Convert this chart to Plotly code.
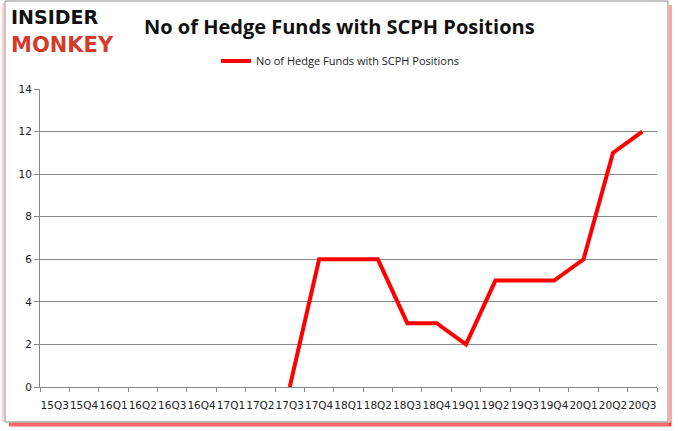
import plotly.graph_objects as go

quarters = ["15Q3", "15Q4", "16Q1", "16Q2", "16Q3", "16Q4", "17Q1", "17Q2", "17Q3", "17Q4",
            "18Q1", "18Q2", "18Q3", "18Q4", "19Q1", "19Q2", "19Q3", "19Q4", "20Q1", "20Q2", "20Q3"]
hedge_funds = [None, None, None, None, None, None, None, None, 0, 6,
               6, 6, 3, 3, 2, 5, 5, 5, 6, 11, 12]
series_name = "No of Hedge Funds with SCPH Positions"
title_text = "No of Hedge Funds with SCPH Positions"
y_ticks = [0, 2, 4, 6, 8, 10, 12, 14]

W, H = 678, 431
L, R, T, B = 40, 657, 89, 387


def px(x):
    return (x - L) / (R - L)


def py(y):
    return (B - y) / (B - T)


fig = go.Figure()
fig.add_trace(go.Scatter(
    x=quarters, y=hedge_funds, mode="lines", name=series_name,
    line=dict(color="#ff0000", width=4), connectgaps=False,
))

shapes = [
    # red shadow
    dict(type="line", xref="paper", yref="paper", x0=px(9), x1=px(671), y0=py(424.5), y1=py(424.5),
         line=dict(color="rgba(255,0,0,0.6)", width=4), layer="below"),
    dict(type="line", xref="paper", yref="paper", x0=px(670.5), x1=px(670.5), y0=py(5), y1=py(426),
         line=dict(color="rgba(255,0,0,0.35)", width=3), layer="below"),
    dict(type="line", xref="paper", yref="paper", x0=px(3), x1=px(3), y0=py(3), y1=py(422),
         line=dict(color="rgba(255,120,120,0.35)", width=2), layer="below"),
    # gray border
    dict(type="rect", xref="paper", yref="paper", x0=px(5), x1=px(668), y0=py(1), y1=py(422),
         line=dict(color="#8c8c8c", width=1), layer="below"),
]

annotations = [
    dict(text="<b>INSIDER</b>", xref="paper", yref="paper", x=px(9), y=py(17), xanchor="left",
         yanchor="middle", showarrow=False,
         font=dict(family="DejaVu Sans", size=19, color="#111111")),
    dict(text="<b>MONKEY</b>", xref="paper", yref="paper", x=px(9), y=py(45), xanchor="left",
         yanchor="middle", showarrow=False,
         font=dict(family="DejaVu Sans", size=21, color="#d43b2a")),
    dict(text="<b>" + title_text + "</b>", xref="paper", yref="paper", x=px(339), y=py(27),
         xanchor="center", yanchor="middle", showarrow=False,
         font=dict(family="Open Sans", size=20, color="#111111")),
]

fig.update_layout(
    width=W, height=H,
    margin=dict(l=L, r=W - R, t=T, b=H - B, autoexpand=False),
    paper_bgcolor="white", plot_bgcolor="rgba(0,0,0,0)",
    shapes=shapes, annotations=annotations,
    showlegend=True,
    legend=dict(orientation="h", x=px(340), xanchor="center", y=py(61), yanchor="middle",
                font=dict(family="Open Sans", size=11, color="#222222"),
                bgcolor="rgba(0,0,0,0)", itemwidth=30),
    xaxis=dict(type="category", categoryorder="array", categoryarray=quarters,
               tickson="boundaries", ticks="outside", ticklen=4, tickcolor="#888888",
               showline=True, linecolor="#888888", linewidth=1, showgrid=False,
               tickangle=0, automargin=False, ticklabelstandoff=8,
               tickfont=dict(family="DejaVu Sans", size=10.5, color="#222222"),
               range=[-0.5, len(quarters) - 0.5]),
    yaxis=dict(range=[0, 14], tickvals=y_ticks, ticks="outside", ticklen=5, tickcolor="#888888",
               showline=True, linecolor="#888888", linewidth=1, automargin=False,
               showgrid=True, gridcolor="#888888", gridwidth=1, zeroline=False,
               tickfont=dict(family="DejaVu Sans", size=10.5, color="#222222")),
)

fig.write_html("out.html", config={"displayModeBar": False},
               post_script="document.body.style.margin='0';document.body.style.padding='0';")
